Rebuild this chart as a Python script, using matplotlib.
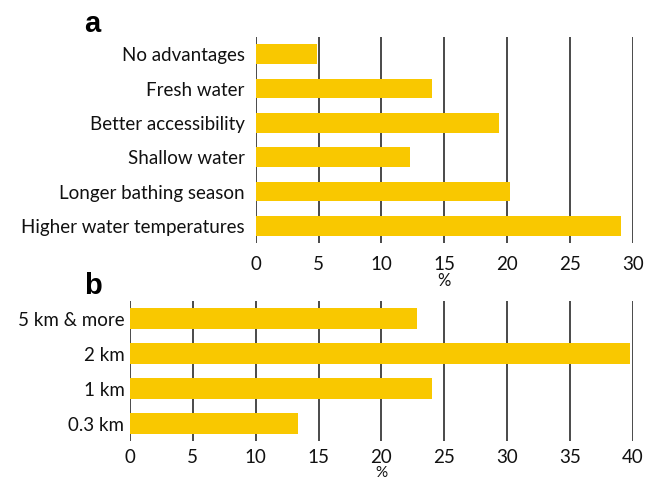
import matplotlib
matplotlib.use("Agg")
import matplotlib.pyplot as plt

plt.rcParams['font.family'] = ['Lato', 'DejaVu Sans']

cats_a = ["Higher water temperatures", "Longer bathing season", "Shallow water",
          "Better accessibility", "Fresh water", "No advantages"]
vals_a = [29.1, 20.2, 12.3, 19.4, 14.0, 4.9]
ticks_a = [0, 5, 10, 15, 20, 25, 30]

cats_b = ["0.3 km", "1 km", "2 km", "5 km & more"]
vals_b = [13.4, 24.0, 39.75, 22.8]
ticks_b = [0, 5, 10, 15, 20, 25, 30, 35, 40]

bar_color = "#F9C800"
grid_color = "#3c3c3c"
fs = 13.5

fig = plt.figure(figsize=(6.6, 4.84), dpi=100)
ax_a = fig.add_axes([0.3874, 0.4979, 0.5712, 0.4256])
ax_b = fig.add_axes([0.1970, 0.0888, 0.7617, 0.2893])

def style(ax, cats, vals, ticks, pady, padx, labelpad, lfs):
    y = list(range(len(cats)))
    ax.barh(y, vals, height=0.58, color=bar_color, zorder=3)
    ax.set_yticks(y)
    ax.set_yticklabels(cats, fontsize=fs, color="#111111")
    ax.set_ylim(-0.5, len(cats) - 0.5)
    ax.set_xlim(ticks[0], ticks[-1])
    ax.set_xticks(ticks)
    ax.set_xticklabels([str(t) for t in ticks], fontsize=fs, color="#111111")
    ax.set_xlabel("%", fontsize=lfs, labelpad=labelpad, color="#111111")
    for s in ax.spines.values():
        s.set_visible(False)
    ax.tick_params(length=0)
    ax.tick_params(axis='x', pad=padx)
    ax.tick_params(axis='y', pad=pady)
    for t in ticks:
        ax.axvline(t, color=grid_color, lw=1.3, zorder=1)

style(ax_a, cats_a, vals_a, ticks_a, 8, 9, 0, 12)
style(ax_b, cats_b, vals_b, ticks_b, 4, 6, 0, 11)

fig.text(84 / 660, 1 - 24 / 484, "a", fontsize=21, fontweight="bold",
         family="Liberation Sans", ha="left", va="center")
fig.text(84 / 660, 1 - 286 / 484, "b", fontsize=21, fontweight="bold",
         family="Liberation Sans", ha="left", va="center")

fig.savefig("out.png", dpi=100)
